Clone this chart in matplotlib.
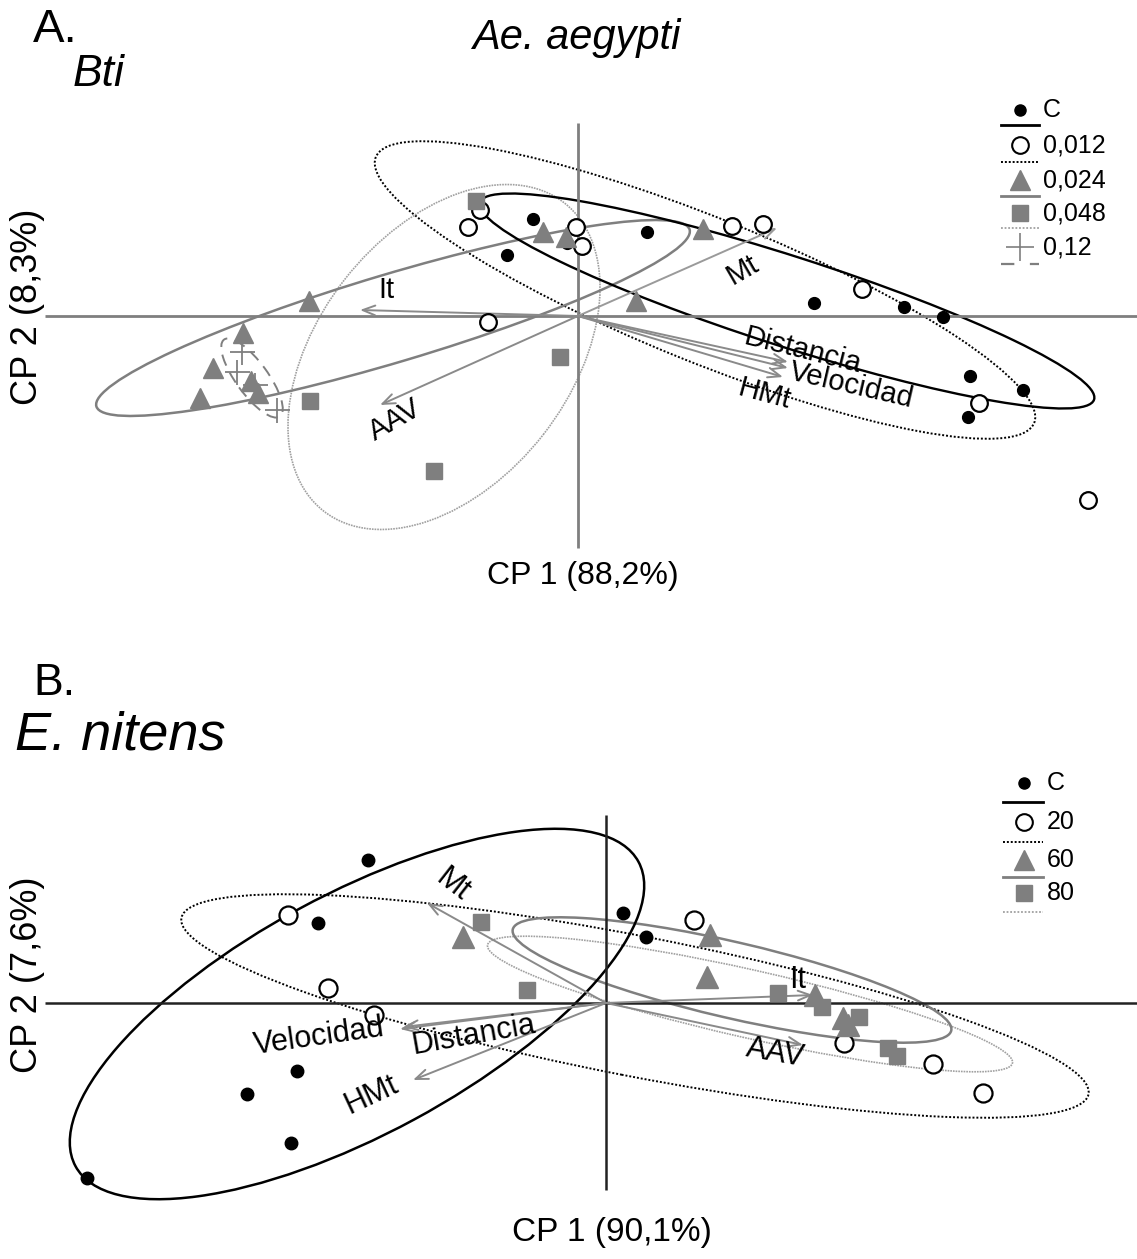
import matplotlib.pyplot as plt
from matplotlib.patches import Ellipse

plt.rcParams['font.family'] = ['Liberation Sans', 'DejaVu Sans']

# ---------------- A. Bti / Ae. aegypti : PCA scores ----------------
a_c_x = [-0.45, -0.71, -0.11, 0.69, 2.36, 3.26, 3.65, 3.92, 4.45, 3.90]
a_c_y = [0.97, 0.61, 0.73, 0.84, 0.13, 0.09, -0.01, -0.60, -0.74, -1.01]
a_012_x = [-1.10, -0.98, -0.02, 0.04, 1.54, 1.85, -0.90, 2.84, 4.01, 5.10]
a_012_y = [0.89, 1.06, 0.89, 0.70, 0.90, 0.92, -0.06, 0.27, -0.87, -1.84]
a_024_x = [-0.35, -0.12, 1.25, 0.58, -2.69, -3.35, -3.65, -3.78, -3.27, -3.20]
a_024_y = [0.84, 0.79, 0.87, 0.15, 0.15, -0.17, -0.52, -0.82, -0.65, -0.77]
a_048_x = [-1.02, -0.18, -2.68, -1.44]
a_048_y = [1.15, -0.41, -0.85, -1.55]
a_12_x = [-3.36, -3.41, -3.01, -3.23]
a_12_y = [-0.36, -0.56, -0.94, -0.69]

# ellipses per dose: centre x, centre y, width, height, angle
a_ell_c = [2.09, 0.15, 6.45, 0.90, -17.8]
a_ell_012 = [1.27, 0.26, 7.10, 1.44, -22.0]
a_ell_024 = [-1.85, -0.02, 6.19, 0.88, 16.6]
a_ell_048 = [-1.34, -0.41, 3.91, 2.52, 52.0]
a_ell_12 = [-3.26, -0.62, 0.95, 0.32, -54.0]

# variable loadings (arrow tips)
a_vars = ['It', 'AAV', 'Mt', 'Distancia', 'Velocidad', 'HMt']
a_load_x = [-2.18, -1.98, 1.99, 2.10, 2.10, 2.05]
a_load_y = [0.06, -0.89, 0.88, -0.46, -0.52, -0.61]

# ---------------- B. E. nitens : PCA scores ----------------
b_c_x = [-2.38, -2.88, -3.09, -3.59, -3.15, -5.19, 0.17, 0.40]
b_c_y = [1.43, 0.80, -0.68, -0.91, -1.40, -1.75, 0.90, 0.66]
b_20_x = [-3.18, -2.78, -2.32, 0.88, 2.38, 3.27, 3.77]
b_20_y = [0.88, 0.15, -0.12, 0.83, -0.40, -0.61, -0.90]
b_60_x = [-1.43, 1.04, 1.01, 2.09, 2.37, 2.42]
b_60_y = [0.66, 0.68, 0.26, 0.08, -0.15, -0.22]
b_80_x = [-1.25, -0.79, 1.72, 2.16, 2.53, 2.82, 2.91]
b_80_y = [0.81, 0.13, 0.10, -0.04, -0.14, -0.45, -0.53]

b_ell_c = [-2.49, -0.11, 6.40, 2.40, 28.4]
b_ell_20 = [0.29, -0.03, 9.24, 1.40, -11.0]
b_ell_60 = [1.26, 0.23, 4.50, 0.76, -13.0]
b_ell_80 = [1.44, -0.01, 5.38, 0.68, -12.7]

b_vars = ['Mt', 'Velocidad', 'Distancia', 'HMt', 'It', 'AAV']
b_load_x = [-1.79, -2.06, -2.03, -1.93, 2.07, 1.97]
b_load_y = [1.00, -0.26, -0.24, -0.77, 0.08, -0.42]

GRAY = '#7f7f7f'
LGRAY = '#a0a0a0'
W, H = 1137, 1259

fig = plt.figure(figsize=(W / 100, H / 100), dpi=100)


def panel_axes(top, bottom, ox, oy):
    # 1 data unit = 100 px in both directions, origin at pixel (ox, oy)
    ax = fig.add_axes([0, (H - bottom) / H, 1, (bottom - top) / H])
    ax.set_xlim(-ox / 100, (W - ox) / 100)
    ax.set_ylim((oy - bottom) / 100, (oy - top) / 100)
    ax.axis('off')
    return ax


def ellipse(ax, p, **kw):
    ax.add_patch(Ellipse((p[0], p[1]), p[2], p[3], angle=p[4], fill=False, **kw))


def arrows(ax, xs, ys, color, lw=1.4):
    for x, y in zip(xs, ys):
        ax.annotate('', xy=(x, y), xytext=(0, 0),
                    arrowprops=dict(arrowstyle='->,head_length=0.9,head_width=0.35',
                                    color=color, lw=lw, shrinkA=0, shrinkB=0))


# ---------- panel A ----------
axA = panel_axes(60, 600, 578, 316)
axA.hlines(0, -5.33, 5.59, color=GRAY, lw=2)
axA.vlines(0, -2.32, 1.93, color=GRAY, lw=2)

ellipse(axA, a_ell_012, ec='black', lw=1.4, ls=(0, (1, 1)))
ellipse(axA, a_ell_048, ec=LGRAY, lw=1.2, ls=(0, (1, 0.6)))
ellipse(axA, a_ell_024, ec=GRAY, lw=1.8)
ellipse(axA, a_ell_12, ec=GRAY, lw=1.4, ls=(0, (6, 4)))
ellipse(axA, a_ell_c, ec='black', lw=1.7)

arrows(axA, a_load_x[:2], a_load_y[:2], '#8a8a8a')
arrows(axA, a_load_x[2:3], a_load_y[2:3], '#9a9a9a')
arrows(axA, a_load_x[3:], a_load_y[3:], '#8a8a8a')

axA.plot(a_c_x, a_c_y, 'o', ms=8.5, color='black', zorder=5)
axA.plot(a_012_x, a_012_y, 'o', ms=12, mfc='white', mec='black', mew=1.6, zorder=5)
axA.plot(a_024_x, a_024_y, '^', ms=15, color=GRAY, mec=GRAY, zorder=5)
axA.plot(a_048_x, a_048_y, 's', ms=11.5, color=GRAY, zorder=5)
axA.plot(a_12_x, a_12_y, '+', ms=18, mew=1.3, color=GRAY, zorder=5)

# arrow labels: position offset and rotation
a_lab_pos = [(-1.92, 0.26), (-1.83, -1.04), (1.65, 0.46), (2.25, -0.35), (2.73, -0.69), (1.86, -0.78)]
a_lab_rot = [0, 30, 30, -14, -13, -15]
for name, (x, y), r in zip(a_vars, a_lab_pos, a_lab_rot):
    axA.text(x, y, name, fontsize=21, rotation=r, ha='center', va='center',
             rotation_mode='anchor', zorder=6)

# ---------- panel B ----------
axB = panel_axes(730, 1259, 606, 1003)
axB.hlines(0, -5.61, 5.31, color='#222222', lw=1.8)
axB.vlines(0, -1.87, 1.88, color='#222222', lw=1.8)

ellipse(axB, b_ell_20, ec='black', lw=1.4, ls=(0, (1, 1)))
ellipse(axB, b_ell_80, ec=LGRAY, lw=1.2, ls=(0, (1, 0.6)))
ellipse(axB, b_ell_60, ec=GRAY, lw=1.8)
ellipse(axB, b_ell_c, ec='black', lw=1.8)

arrows(axB, b_load_x, b_load_y, '#8a8a8a')

axB.plot(b_c_x, b_c_y, 'o', ms=9, color='black', zorder=5)
axB.plot(b_20_x, b_20_y, 'o', ms=13, mfc='white', mec='black', mew=1.6, zorder=5)
axB.plot(b_60_x, b_60_y, '^', ms=16, color=GRAY, zorder=5)
axB.plot(b_80_x, b_80_y, 's', ms=12, color=GRAY, zorder=5)

b_lab_pos = [(-1.53, 1.18), (-2.87, -0.34), (-1.32, -0.32), (-2.35, -0.92), (1.92, 0.23), (1.69, -0.50)]
b_lab_rot = [-38, 8, 10, 25, 0, -10]
for name, (x, y), r in zip(b_vars, b_lab_pos, b_lab_rot):
    axB.text(x, y, name, fontsize=22, rotation=r, ha='center', va='center',
             rotation_mode='anchor', zorder=6)

# ---------- titles, axis names and legends (pixel overlay) ----------
ov = fig.add_axes([0, 0, 1, 1])
ov.set_xlim(0, W)
ov.set_ylim(H, 0)
ov.axis('off')
ov.patch.set_alpha(0)

ov.text(33, 30, 'A.', fontsize=34, va='center')
ov.text(73, 74, 'Bti', fontsize=32, style='italic', va='center')
ov.text(576, 38, 'Ae. aegypti', fontsize=30, style='italic', ha='center', va='center')
ov.text(28, 307, 'CP 2 (8,3%)', fontsize=26, rotation=90, ha='center', va='center')
ov.text(583, 576, 'CP 1 (88,2%)', fontsize=23, ha='center', va='center')

ov.text(33, 683, 'B.', fontsize=32, va='center')
ov.text(15, 735, 'E. nitens', fontsize=39, style='italic', va='center')
ov.text(28, 975, 'CP 2 (7,6%)', fontsize=26, rotation=90, ha='center', va='center')
ov.text(612, 1232, 'CP 1 (90,1%)', fontsize=24, ha='center', va='center')


def legend(rows, x0, x1, mx, tx):
    for label, y, mk, line in rows:
        ov.plot([mx], [y], **mk)
        ov.text(tx, y, label, fontsize=18, va='center')
        ov.plot([x0, x1], [line[0], line[0]], **line[1])


dot = dict(marker='o', ms=8, color='black', ls='none')
ring = dict(marker='o', ms=12, mfc='white', mec='black', mew=1.5, ls='none')
tri = dict(marker='^', ms=15, color=GRAY, ls='none')
sq = dict(marker='s', ms=11, color=GRAY, ls='none')
plus = dict(marker='+', ms=20, mew=1.2, color=GRAY, ls='none')
solid_k = dict(color='black', lw=2)
dot_k = dict(color='black', lw=1.4, ls=(0, (1, 1)))
solid_g = dict(color=GRAY, lw=2)
dot_g = dict(color=LGRAY, lw=1.3, ls=(0, (1, 1)))
dash_g = dict(color=GRAY, lw=1.6, ls=(0, (6, 7)))

legend([('C', 110, dot, (125, solid_k)),
        ('0,012', 145, ring, (162, dot_k)),
        ('0,024', 180, tri, (196, solid_g)),
        ('0,048', 213, sq, (228, dot_g)),
        ('0,12', 247, plus, (264, dash_g))],
       1001, 1039, 1020, 1043)

legend([('C', 783, dot, (802, solid_k)),
        ('20', 822, ring, (842, dot_k)),
        ('60', 860, tri, (877, solid_g)),
        ('80', 893, sq, (912, dot_g))],
       1003, 1043, 1024, 1047)

fig.savefig('out.png', dpi=100)
